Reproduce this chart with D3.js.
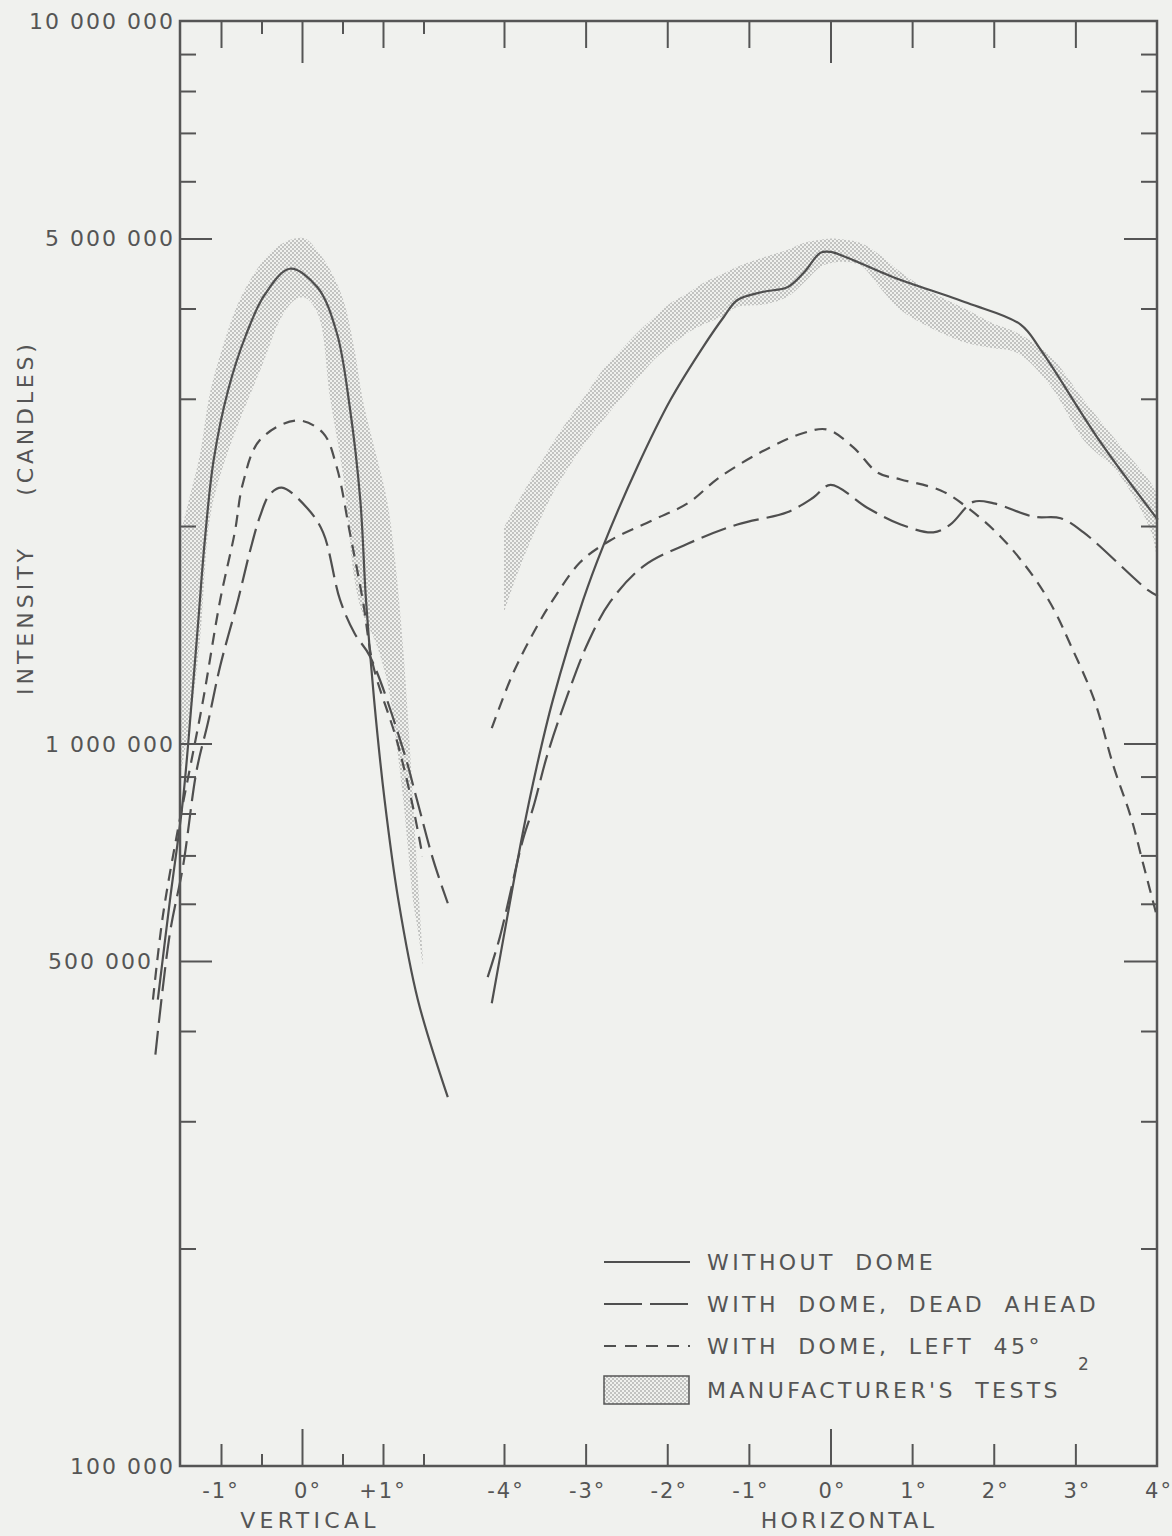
<!DOCTYPE html>
<html>
<head>
<meta charset="utf-8">
<script src="https://cdn.jsdelivr.net/npm/d3@7"></script>
<style>
  body { margin: 0; background: #f0f1ee; }
  text { font-family: "DejaVu Sans", sans-serif; fill: #555; }
</style>
</head>
<body>
<svg width="1172" height="1536"></svg>
<script>
// ---- data: [angle in degrees, intensity in candles] ----
var vertWithout = [
  [-1.78, 4.42e5], [-1.63, 6.07e5], [-1.47, 8.35e5], [-1.36, 1.15e6], [-1.28, 1.48e6],
  [-1.20, 1.91e6], [-1.09, 2.47e6], [-0.91, 3.09e6], [-0.69, 3.68e6], [-0.46, 4.18e6],
  [-0.15, 4.54e6], [0.19, 4.28e6], [0.43, 3.70e6], [0.59, 2.92e6], [0.72, 2.17e6],
  [0.79, 1.58e6], [0.89, 1.15e6], [1.02, 8.35e5], [1.19, 6.07e5], [1.43, 4.42e5],
  [1.80, 3.24e5]
];
var vertAhead = [
  [-1.81, 3.71e5], [-1.63, 5.47e5], [-1.47, 6.75e5], [-1.30, 9.19e5], [-1.16, 1.07e6],
  [-1.01, 1.28e6], [-0.79, 1.58e6], [-0.64, 1.85e6], [-0.52, 2.06e6], [-0.40, 2.21e6],
  [-0.25, 2.26e6], [0.06, 2.12e6], [0.26, 1.96e6], [0.47, 1.58e6], [0.65, 1.42e6],
  [0.84, 1.32e6], [1.25, 9.80e5], [1.42, 8.35e5], [1.62, 6.90e5], [1.80, 6.01e5]
];
var vertLeft45 = [
  [-1.84, 4.42e5], [-1.72, 5.75e5], [-1.54, 7.52e5], [-1.38, 9.28e5], [-1.22, 1.15e6],
  [-1.01, 1.58e6], [-0.83, 1.96e6], [-0.73, 2.29e6], [-0.52, 2.63e6], [-0.06, 2.80e6],
  [0.26, 2.69e6], [0.43, 2.41e6], [0.59, 1.96e6], [0.75, 1.58e6], [0.88, 1.28e6],
  [1.17, 1.01e6], [1.37, 8.17e5], [1.49, 6.97e5]
];
// manufacturer's tests: [angle, upper, lower]
var vertMfr = [
  [-1.49, 1.97e6, 9.19e5], [-1.38, 2.21e6, 1.08e6], [-1.26, 2.51e6, 1.39e6],
  [-1.14, 3.04e6, 2.04e6], [-1.01, 3.45e6, 2.35e6], [-0.77, 4.11e6, 2.80e6],
  [-0.49, 4.64e6, 3.34e6], [-0.27, 4.90e6, 3.86e6], [-0.09, 5.00e6, 4.11e6],
  [0.04, 5.00e6, 4.14e6], [0.20, 4.79e6, 3.92e6], [0.35, 4.52e6, 2.99e6],
  [0.51, 4.11e6, 2.34e6], [0.65, 3.50e6, 1.68e6], [0.75, 2.99e6, 1.51e6],
  [0.90, 2.55e6, 1.39e6], [1.05, 2.17e6, 1.22e6], [1.15, 1.79e6, 1.03e6],
  [1.25, 1.35e6, 8.35e5], [1.31, 1.08e6, 7.12e5], [1.37, 8.35e5, 6.07e5],
  [1.43, 6.47e5, 5.52e5], [1.49, 5.10e5, 4.94e5]
];

var horzWithout = [
  [-4.15, 4.37e5], [-3.96, 5.75e5], [-3.77, 7.52e5], [-3.60, 9.28e5], [-3.40, 1.15e6],
  [-3.03, 1.58e6], [-2.79, 1.87e6], [-2.37, 2.41e6], [-1.96, 2.99e6], [-1.56, 3.54e6],
  [-1.31, 3.89e6], [-1.14, 4.11e6], [-0.82, 4.22e6], [-0.53, 4.28e6], [-0.33, 4.48e6],
  [-0.12, 4.78e6], [0, 4.79e6], [0.77, 4.42e6], [1.68, 4.07e6], [2.33, 3.80e6],
  [2.58, 3.50e6], [3.31, 2.61e6], [4.01, 2.04e6]
];
var horzAhead = [
  [-4.20, 4.75e5], [-4.05, 5.40e5], [-3.77, 7.35e5], [-3.64, 8.17e5], [-3.47, 9.64e5],
  [-3.23, 1.16e6], [-2.97, 1.38e6], [-2.70, 1.57e6], [-2.29, 1.76e6], [-1.75, 1.89e6],
  [-1.14, 2.01e6], [-0.53, 2.09e6], [-0.21, 2.19e6], [0, 2.28e6], [0.45, 2.12e6],
  [0.86, 2.01e6], [1.26, 1.96e6], [1.47, 2.01e6], [1.75, 2.16e6], [2.00, 2.15e6],
  [2.49, 2.06e6], [2.82, 2.05e6], [3.10, 1.96e6], [3.89, 1.63e6], [4.01, 1.60e6]
];
var horzLeft45 = [
  [-4.15, 1.05e6], [-3.89, 1.25e6], [-3.60, 1.45e6], [-3.40, 1.58e6], [-3.07, 1.78e6],
  [-2.70, 1.91e6], [-2.17, 2.04e6], [-1.75, 2.15e6], [-1.35, 2.34e6], [-0.74, 2.57e6],
  [-0.33, 2.69e6], [-0.04, 2.72e6], [0.28, 2.57e6], [0.58, 2.37e6], [0.86, 2.32e6],
  [1.35, 2.24e6], [1.68, 2.12e6], [2.09, 1.93e6], [2.49, 1.70e6], [2.74, 1.53e6],
  [2.94, 1.37e6], [3.23, 1.15e6], [3.47, 9.28e5], [3.68, 7.91e5], [3.84, 6.75e5],
  [4.01, 5.70e5]
];
var horzMfr = [
  [-4.0, 1.99e6, 1.52e6], [-3.80, 2.19e6, 1.76e6], [-3.60, 2.39e6, 1.99e6],
  [-3.40, 2.61e6, 2.22e6], [-3.19, 2.83e6, 2.43e6], [-2.98, 3.06e6, 2.63e6],
  [-2.79, 3.29e6, 2.80e6], [-2.58, 3.49e6, 2.99e6], [-2.37, 3.70e6, 3.19e6],
  [-2.17, 3.88e6, 3.39e6], [-1.96, 4.07e6, 3.55e6], [-1.75, 4.20e6, 3.70e6],
  [-1.56, 4.34e6, 3.80e6], [-1.35, 4.45e6, 3.89e6], [-1.14, 4.57e6, 4.02e6],
  [-0.82, 4.71e6, 4.05e6], [-0.53, 4.82e6, 4.15e6], [-0.33, 4.93e6, 4.34e6],
  [-0.12, 4.98e6, 4.57e6], [0, 5.00e6, 4.62e6], [0.18, 4.98e6, 4.64e6],
  [0.37, 4.93e6, 4.59e6], [0.61, 4.74e6, 4.27e6], [0.86, 4.49e6, 3.98e6],
  [1.23, 4.22e6, 3.76e6], [1.68, 3.98e6, 3.58e6], [1.96, 3.83e6, 3.53e6],
  [2.29, 3.70e6, 3.47e6], [2.70, 3.43e6, 3.12e6], [3.10, 2.99e6, 2.63e6],
  [3.52, 2.61e6, 2.37e6], [3.93, 2.29e6, 1.96e6], [4.0, 2.21e6, 1.79e6]
];

// ---- ticks and labels ----
var yMinor = [2e5, 3e5, 4e5, 6e5, 7e5, 8e5, 9e5, 2e6, 3e6, 4e6, 6e6, 7e6, 8e6, 9e6];
var yMajor = [5e5, 1e6, 5e6];
var yLabels = [1e7, 5e6, 1e6, 5e5, 1e5];
var vertMinor = [-0.5, 0.5, 1.5];
var vertMajor = [-1, 1];
var vertLabels = [-1, 0, 1];
var horzMajor = [-4, -3, -2, -1, 1, 2, 3];
var horzLabels = [-4, -3, -2, -1, 0, 1, 2, 3, 4];
var legendNames = ['WITHOUT DOME', 'WITH DOME, DEAD AHEAD', 'WITH DOME, LEFT 45°', "MANUFACTURER'S  TESTS"];

var svg = d3.select('svg'),
    plotL = 180, plotR = 1157, plotT = 21, plotB = 1466,
    ink = '#4f4f4f';

var y = d3.scaleLog().domain([1e5, 1e7]).range([plotB, plotT]);
var xV = d3.scaleLinear().domain([-1, 1]).range([221, 383]);
var xH = d3.scaleLinear().domain([-4, 4]).range([504, plotR]);

// stipple pattern for the manufacturer's band
var pat = svg.append('defs').append('pattern')
    .attr('id', 'stipple')
    .attr('patternUnits', 'userSpaceOnUse')
    .attr('width', 4).attr('height', 4);
pat.append('circle').attr('cx', 1).attr('cy', 1).attr('r', 0.75).attr('fill', '#7d7d7d');
pat.append('circle').attr('cx', 3).attr('cy', 3).attr('r', 0.75).attr('fill', '#7d7d7d');

function band(x) {
    return d3.area()
        .x(d => x(d[0]))
        .y0(d => y(d[2]))
        .y1(d => y(d[1]))
        .curve(d3.curveCatmullRom);
}
function line(x) {
    return d3.line()
        .x(d => x(d[0]))
        .y(d => y(d[1]))
        .curve(d3.curveCatmullRom);
}

svg.append('path').datum(vertMfr).attr('d', band(xV)).attr('fill', 'url(#stipple)');
svg.append('path').datum(horzMfr).attr('d', band(xH)).attr('fill', 'url(#stipple)');

var series = [
    { data: vertWithout, x: xV, dash: null },
    { data: vertAhead, x: xV, dash: '24,8' },
    { data: vertLeft45, x: xV, dash: '12,8' },
    { data: horzWithout, x: xH, dash: null },
    { data: horzAhead, x: xH, dash: '26,8' },
    { data: horzLeft45, x: xH, dash: '12,8' }
];
series.forEach(function(s) {
    svg.append('path')
        .datum(s.data)
        .attr('d', line(s.x))
        .attr('fill', 'none')
        .attr('stroke', ink)
        .attr('stroke-width', 2.2)
        .attr('stroke-dasharray', s.dash);
});

// frame
svg.append('rect')
    .attr('x', plotL).attr('y', plotT)
    .attr('width', plotR - plotL).attr('height', plotB - plotT)
    .attr('fill', 'none').attr('stroke', '#555').attr('stroke-width', 2.5);

// tick marks, all pointing inward
function ticks(axis, tx, ty, vals, size) {
    var g = svg.append('g')
        .attr('transform', 'translate(' + tx + ',' + ty + ')')
        .attr('color', '#555')
        .call(axis.tickValues(vals).tickSize(size).tickFormat(''));
    g.select('.domain').remove();
    g.selectAll('line').attr('stroke-width', 2);
}
ticks(d3.axisRight(y), plotL, 0, yMinor, 16);
ticks(d3.axisRight(y), plotL, 0, yMajor, 32);
ticks(d3.axisLeft(y), plotR, 0, yMinor, 16);
ticks(d3.axisLeft(y), plotR, 0, yMajor, 33);

ticks(d3.axisTop(xV), 0, plotB, vertMinor, 12);
ticks(d3.axisTop(xV), 0, plotB, vertMajor, 22);
ticks(d3.axisTop(xV), 0, plotB, [0], 37);
ticks(d3.axisTop(xH), 0, plotB, horzMajor, 22);
ticks(d3.axisTop(xH), 0, plotB, [0], 37);

ticks(d3.axisBottom(xV), 0, plotT, vertMinor, 13);
ticks(d3.axisBottom(xV), 0, plotT, vertMajor, 27);
ticks(d3.axisBottom(xV), 0, plotT, [0], 42);
ticks(d3.axisBottom(xH), 0, plotT, horzMajor, 27);
ticks(d3.axisBottom(xH), 0, plotT, [0], 42);

// y tick labels
var fmt = d3.formatLocale({ decimal: '.', thousands: ' ', grouping: [3], currency: ['', ''] }).format(',');
svg.selectAll('.ylab')
    .data(yLabels)
    .enter().append('text')
        .attr('class', 'ylab')
        .attr('x', d => d === 5e5 ? 153 : 175)
        .attr('y', d => y(d) + 8)
        .attr('text-anchor', 'end')
        .attr('font-size', 22)
        .attr('letter-spacing', 2)
        .text(d => fmt(d));

// x tick labels
svg.selectAll('.vlab')
    .data(vertLabels)
    .enter().append('text')
        .attr('x', d => xV(d) + (d === 0 ? 6 : 0))
        .attr('y', 1498)
        .attr('text-anchor', 'middle')
        .attr('font-size', 21)
        .attr('letter-spacing', 2)
        .text(d => (d > 0 ? '+' : d < 0 ? '-' : '') + Math.abs(d) + '°');
svg.selectAll('.hlab')
    .data(horzLabels)
    .enter().append('text')
        .attr('x', d => xH(d) + 2)
        .attr('y', 1498)
        .attr('text-anchor', 'middle')
        .attr('font-size', 21)
        .attr('letter-spacing', 2)
        .text(d => (d < 0 ? '-' : '') + Math.abs(d) + '°');

svg.append('text').attr('x', 310).attr('y', 1528).attr('text-anchor', 'middle')
    .attr('font-size', 22).attr('letter-spacing', 4.3).text('VERTICAL');
svg.append('text').attr('x', 849).attr('y', 1528).attr('text-anchor', 'middle')
    .attr('font-size', 22).attr('letter-spacing', 3.3).text('HORIZONTAL');

// y axis title
svg.append('text').attr('transform', 'translate(33,620) rotate(-90)').attr('text-anchor', 'middle')
    .attr('font-size', 22).attr('letter-spacing', 4).text('INTENSITY');
svg.append('text').attr('transform', 'translate(33,418) rotate(-90)').attr('text-anchor', 'middle')
    .attr('font-size', 22).attr('letter-spacing', 3.8).text('(CANDLES)');

// legend
var legend = svg.append('g').attr('transform', 'translate(604,1262)');
var legendDash = [null, '38,8', '12,9'];
legendDash.forEach(function(dash, i) {
    legend.append('line')
        .attr('x1', 0).attr('x2', 86)
        .attr('y1', i * 42).attr('y2', i * 42)
        .attr('stroke', ink).attr('stroke-width', 2.2)
        .attr('stroke-dasharray', dash);
});
legend.append('rect')
    .attr('x', 0).attr('y', 114).attr('width', 85).attr('height', 28)
    .attr('fill', 'url(#stipple)').attr('stroke', '#555').attr('stroke-width', 1.5);
legend.selectAll('.ltxt')
    .data(legendNames)
    .enter().append('text')
        .attr('x', 103)
        .attr('y', (d, i) => i * 42 + 8 + (i === 3 ? 2 : 0))
        .attr('font-size', 22)
        .attr('letter-spacing', 3.4)
        .attr('word-spacing', 9)
        .text(d => d);
legend.append('text').attr('x', 474).attr('y', 108).attr('font-size', 17).text('2');
</script>
</body>
</html>
